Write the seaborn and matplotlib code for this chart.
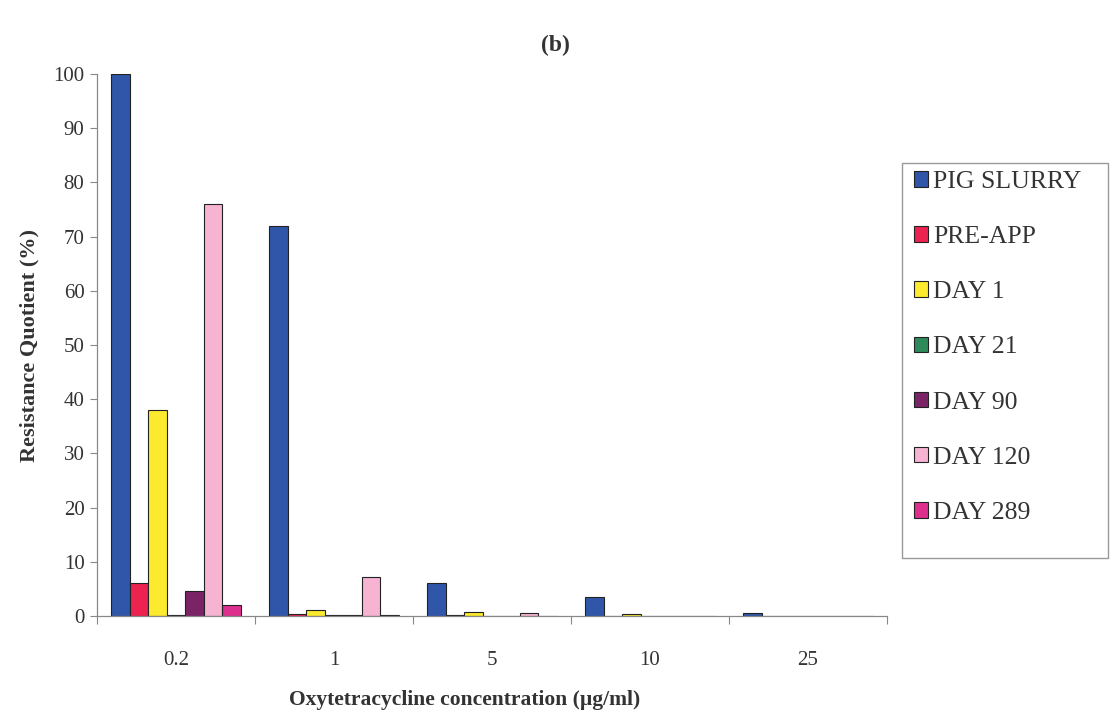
import numpy as np
import pandas as pd
import matplotlib
matplotlib.use("Agg")
import matplotlib.pyplot as plt
from matplotlib.patches import Rectangle
from matplotlib.ticker import FixedLocator
import seaborn as sns

# Oxytetracycline concentrations (µg/ml) and sampling series
concentrations = ["0.2", "1", "5", "10", "25"]
series = ["PIG SLURRY", "PRE-APP", "DAY 1", "DAY 21", "DAY 90", "DAY 120", "DAY 289"]

pig_slurry = [100, 72, 6.0, 3.5, 0.5]
pre_app = [6.0, 0.4, 0.2, 0.0, 0.0]
day_1 = [38, 1.1, 0.8, 0.3, 0.0]
day_21 = [0.2, 0.1, 0.0, 0.0, 0.0]
day_90 = [4.7, 0.2, 0.0, 0.0, 0.0]
day_120 = [76, 7.2, 0.6, 0.0, 0.0]
day_289 = [2.0, 0.1, 0.0, 0.0, 0.0]

colors = ["#2F56A8", "#EC2250", "#FBEA2E", "#2E8A5A", "#7A2466", "#F7B4D2", "#DE2F8E"]

values = [pig_slurry, pre_app, day_1, day_21, day_90, day_120, day_289]
rows = []
for name, vals in zip(series, values):
    for conc, v in zip(concentrations, vals):
        rows.append({"conc": conc, "series": name, "value": v})
df = pd.DataFrame(rows)

sns.set_theme(style="white")
plt.rcParams["font.family"] = ["Liberation Serif", "DejaVu Serif"]

W, H = 1111, 727
fig = plt.figure(figsize=(W / 100, H / 100), dpi=100)
ax = fig.add_axes([97 / W, 1 - 616 / H, 790 / W, 542 / H])

sns.barplot(data=df, x="conc", y="value", hue="series", order=concentrations,
            hue_order=series, palette=colors, width=0.82, gap=0,
            edgecolor="#222222", linewidth=0.8, saturation=1, ax=ax)

ax.set_ylim(0, 100)
ax.set_xlim(-0.5, len(concentrations) - 0.5)
ax.set_yticks(np.arange(0, 101, 10))
ax.tick_params(axis="y", which="major", direction="out", length=5, width=0.8,
               color="#888888", labelsize=15, labelcolor="#333333", pad=4, left=True)
ax.tick_params(axis="x", which="major", length=0, labelsize=15,
               labelcolor="#333333", pad=25)
ax.xaxis.set_minor_locator(FixedLocator(np.arange(-0.5, len(concentrations), 1.0)))
ax.tick_params(axis="x", which="minor", direction="out", length=6, width=0.8,
               color="#888888", bottom=True)

for s in ["top", "right"]:
    ax.spines[s].set_visible(False)
for s in ["left", "bottom"]:
    ax.spines[s].set_color("#888888")
    ax.spines[s].set_linewidth(0.9)

ax.set_xlabel("")
ax.set_ylabel("Resistance Quotient (%)", fontsize=16, fontweight="bold",
              color="#333333", labelpad=10)
fig.text(465 / W, 1 - 700 / H, "Oxytetracycline concentration (µg/ml)",
         fontsize=15.5, fontweight="bold", color="#333333",
         ha="center", va="center")
fig.text(555 / W, 1 - 45 / H, "(b)", fontsize=17, fontweight="bold",
         color="#333333", ha="center", va="center")

# Legend entries without their own frame; a plain box is drawn around them
leg = ax.legend(loc="upper left", bbox_to_anchor=(914 / W, 1 - 171 / H),
                bbox_transform=fig.transFigure, frameon=False, fontsize=18.5,
                handlelength=0.55, handleheight=0.55, handletextpad=0.2,
                labelspacing=1.29, borderpad=0, borderaxespad=0)
for t in leg.get_texts():
    t.set_color("#333333")
fig.patches.append(Rectangle((902 / W, 1 - 558 / H), 206 / W, 395 / H,
                             transform=fig.transFigure, fill=False,
                             edgecolor="#999999", linewidth=1.0))

fig.savefig("out.png", dpi=100, facecolor="white")
